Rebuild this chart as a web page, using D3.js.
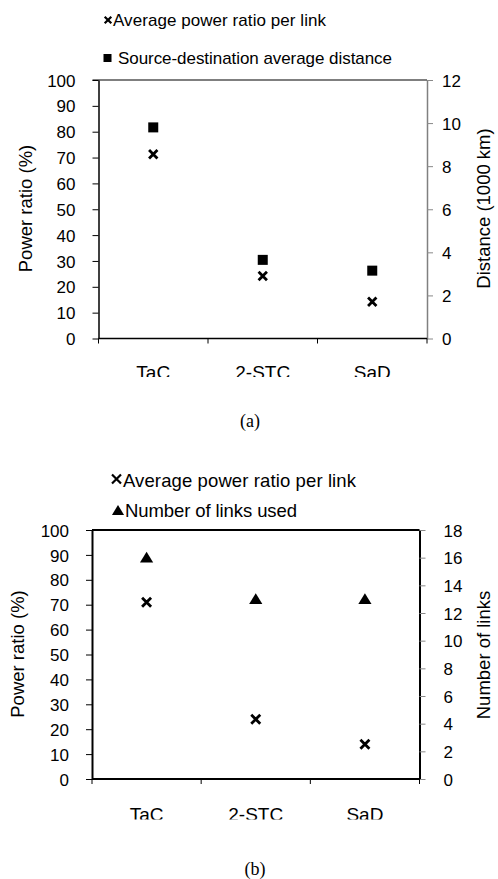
<!DOCTYPE html>
<html><head><meta charset="utf-8">
<script src="https://cdn.jsdelivr.net/npm/d3@7"></script>
<style>
html,body{margin:0;padding:0;background:#fff;}
svg text{font-family:"Liberation Sans",Arial,sans-serif;fill:#000;}
</style></head>
<body>
<svg id="c" width="498" height="879"></svg>
<script>
// ---- data ----
const categories = ["TaC", "2-STC", "SaD"];
const powerRatioA = [71.3, 24.2, 14.2];     // % (left axis)
const distanceA = [9.8, 3.65, 3.15];        // 1000 km (right axis)
const powerRatioB = [71, 24, 14];           // % (left axis)
const linksUsedB = [16, 13, 13];            // number of links (right axis)
const leftTicks = [0, 10, 20, 30, 40, 50, 60, 70, 80, 90, 100];
const rightTicksA = [0, 2, 4, 6, 8, 10, 12];
const rightTicksB = [0, 2, 4, 6, 8, 10, 12, 14, 16, 18];
const legendA = ["Average power ratio per link", "Source-destination average distance"];
const legendB = ["Average power ratio per link", "Number of links used"];

const svg = d3.select("#c");
const defs = svg.append("defs");

function crossPath(s) {
  return `M${-s},${-s}L${s},${s}M${-s},${s}L${s},${-s}`;
}
function triPath(s) {
  return `M0,${-s}L${s*1.1},${s*0.8}L${-s*1.1},${s*0.8}Z`;
}

function panel(cfg) {
  const g = svg.append("g");
  const x = d3.scaleBand().domain(categories).range([cfg.x0, cfg.x1]).paddingInner(0).paddingOuter(0);
  const yL = d3.scaleLinear().domain([0, 100]).range([cfg.yB, cfg.yT]);
  const yR = d3.scaleLinear().domain([0, cfg.rMax]).range([cfg.yB, cfg.yT]);

  // left axis
  const la = g.append("g").attr("transform", `translate(${cfg.x0},0)`)
    .call(d3.axisLeft(yL).tickValues(leftTicks).tickSize(6).tickPadding(cfg.lPad).tickSizeOuter(0));
  la.select(".domain").attr("stroke", "#000").attr("stroke-width", cfg.lw);
  la.selectAll(".tick line").attr("stroke", "#000").attr("stroke-width", 1);
  la.selectAll(".tick text").style("font-size", "17px").attr("dy", "0.36em");

  // right axis
  const ra = g.append("g").attr("transform", `translate(${cfg.x1},0)`)
    .call(d3.axisRight(yR).tickValues(cfg.rTicks).tickSize(6).tickPadding(cfg.rPad).tickSizeOuter(0));
  ra.select(".domain").attr("stroke", cfg.rColor).attr("stroke-width", cfg.lw);
  ra.selectAll(".tick line").attr("stroke", "#888").attr("stroke-width", 1);
  ra.selectAll(".tick text").style("font-size", "17px").attr("dy", "0.36em");

  // top border
  g.append("line").attr("x1", cfg.x0 - (cfg.topExt || 0)).attr("x2", cfg.x1)
    .attr("y1", cfg.yT).attr("y2", cfg.yT).attr("stroke", "#000").attr("stroke-width", cfg.tw);

  // bottom axis
  g.append("line").attr("x1", cfg.x0).attr("x2", cfg.x1).attr("y1", cfg.yB).attr("y2", cfg.yB)
    .attr("stroke", "#000").attr("stroke-width", cfg.lw);
  const bounds = categories.map(c => x(c)).concat([x(categories[categories.length - 1]) + x.bandwidth()]);
  g.selectAll(".bt").data(bounds).join("line")
    .attr("x1", d => d).attr("x2", d => d).attr("y1", cfg.yB).attr("y2", cfg.yB + 5)
    .attr("stroke", "#000").attr("stroke-width", 1);

  const clipId = "clip" + cfg.id;
  defs.append("clipPath").attr("id", clipId).append("rect")
    .attr("x", 0).attr("y", 0).attr("width", 498).attr("height", cfg.labClip);
  g.append("g").attr("clip-path", `url(#${clipId})`)
    .selectAll("text").data(categories).join("text")
    .attr("x", d => x(d) + x.bandwidth() / 2).attr("y", cfg.labY)
    .attr("text-anchor", "middle").style("font-size", "19px").text(d => d);

  // axis titles
  g.append("text").attr("transform", `translate(${cfg.ltX},${cfg.tY}) rotate(-90)`)
    .attr("text-anchor", "middle").attr("dy", "0.35em").style("font-size", "18.5px").text("Power ratio (%)");
  g.append("text").attr("transform", `translate(${cfg.rtX},${cfg.rtY}) rotate(-90)`)
    .attr("text-anchor", "middle").attr("dy", "0.35em").style("font-size", "18.5px").text(cfg.rTitle);

  // markers
  g.selectAll(".cr").data(cfg.pr).join("path")
    .attr("transform", (d, i) => `translate(${x(categories[i]) + x.bandwidth() / 2},${yL(d)})`)
    .attr("d", crossPath(cfg.cs)).attr("stroke", "#000").attr("stroke-width", 2.8).attr("fill", "none");
  if (cfg.shape === "square") {
    g.selectAll(".sq").data(cfg.rv).join("rect")
      .attr("x", (d, i) => x(categories[i]) + x.bandwidth() / 2 - 5)
      .attr("y", d => yR(d) - 5).attr("width", 10).attr("height", 10).attr("fill", "#000");
  } else {
    g.selectAll(".tr").data(cfg.rv).join("path")
      .attr("transform", (d, i) => `translate(${x(categories[i]) + x.bandwidth() / 2},${yR(d)})`)
      .attr("d", triPath(6)).attr("fill", "#000");
  }

  // legend
  const lg = g.append("g");
  lg.append("path").attr("transform", `translate(${cfg.lg1[0]},${cfg.lg1[1]})`)
    .attr("d", crossPath(cfg.lgCs)).attr("stroke", "#000").attr("stroke-width", 2.2).attr("fill", "none");
  if (cfg.shape === "square") {
    lg.append("rect").attr("x", cfg.lg2[0] - 4).attr("y", cfg.lg2[1] - 4).attr("width", 8).attr("height", 8).attr("fill", "#000");
  } else {
    lg.append("path").attr("transform", `translate(${cfg.lg2[0]},${cfg.lg2[1]})`).attr("d", triPath(5.5)).attr("fill", "#000");
  }
  cfg.legTexts.forEach((t, i) => {
    const p = cfg.legPos[i];
    lg.append("text").attr("x", p[0]).attr("y", p[1]).style("font-size", cfg.legFont + "px")
      .attr("textLength", p[2]).attr("lengthAdjust", "spacing").text(t);
  });

  // caption
  svg.append("text").attr("x", cfg.capX).attr("y", cfg.capY).attr("text-anchor", "middle")
    .style("font-family", "'Liberation Serif','Times New Roman',serif").style("font-size", "18px").text(cfg.cap);
}

panel({
  id: "a", x0: 98.5, x1: 427, yT: 80, yB: 338.5, rMax: 12, rTicks: rightTicksA,
  lPad: 17, rPad: 9, lw: 1.5, tw: 1.2, rColor: "#808080", topExt: 6,
  labY: 378.5, labClip: 377, ltX: 26, rtX: 484, tY: 208.5, rtY: 208.5,
  rTitle: "Distance (1000 km)", pr: powerRatioA, rv: distanceA, shape: "square", cs: 4.2,
  lg1: [108, 20], lg2: [107.5, 58], lgCs: 3.3, legFont: 17, legTexts: legendA,
  legPos: [[113, 26, 213], [118, 64, 274]],
  capX: 250, capY: 427, cap: "(a)"
});

panel({
  id: "b", x0: 92, x1: 419.5, yT: 530, yB: 779, rMax: 18, rTicks: rightTicksB,
  lPad: 17, rPad: 18, lw: 2, tw: 2, rColor: "#000", topExt: 0,
  labY: 821, labClip: 819.5, ltX: 17.5, rtX: 484, tY: 654, rtY: 655,
  rTitle: "Number of links", pr: powerRatioB, rv: linksUsedB, shape: "tri", cs: 4.5,
  lg1: [116.5, 479], lg2: [118, 510.5], lgCs: 4.5, legFont: 18.5, legTexts: legendB,
  legPos: [[123, 486.5, 233], [125, 516.5, 172]],
  capX: 255, capY: 875, cap: "(b)"
});
</script>
</body></html>
